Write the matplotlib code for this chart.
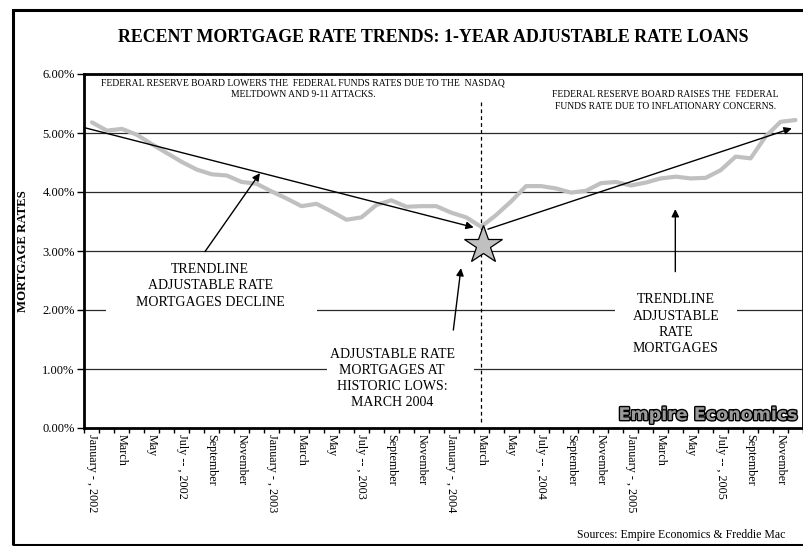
import matplotlib
matplotlib.use("Agg")
import matplotlib.pyplot as plt
import matplotlib.patheffects as pe
from matplotlib.patches import Rectangle
from matplotlib.ticker import FixedLocator, FuncFormatter

# ---- data: 1-year adjustable mortgage rate, monthly Jan 2002 - Dec 2005 (%)
months = [
    "January - , 2002", "February", "March", "April", "May", "June",
    "July -- , 2002", "August", "September", "October", "November", "December",
    "January - , 2003", "February", "March", "April", "May", "June",
    "July -- , 2003", "August", "September", "October", "November", "December",
    "January - , 2004", "February", "March", "April", "May", "June",
    "July -- , 2004", "August", "September", "October", "November", "December",
    "January - , 2005", "February", "March", "April", "May", "June",
    "July -- , 2005", "August", "September", "October", "November", "December",
]
rates = [
    5.18, 5.04, 5.07, 4.97, 4.81, 4.66, 4.51, 4.38, 4.30, 4.28, 4.17, 4.14,
    4.01, 3.89, 3.76, 3.80, 3.67, 3.53, 3.57, 3.78, 3.86, 3.75, 3.76, 3.76,
    3.65, 3.57, 3.41, 3.61, 3.84, 4.10, 4.10, 4.06, 3.99, 4.02, 4.15, 4.17,
    4.11, 4.16, 4.23, 4.26, 4.23, 4.24, 4.37, 4.60, 4.57, 4.94, 5.19, 5.22,
]
y_ticks = [0, 1, 2, 3, 4, 5, 6]
low_month = 26          # March 2004
low_marker_value = 3.10

SERIF = "Liberation Serif"
plt.rcParams["font.family"] = [SERIF, "DejaVu Serif"]

W, H = 804, 546
fig = plt.figure(figsize=(W / 100, H / 100), dpi=100)
fig.patch.set_facecolor("white")

# plot area in pixel terms
left_px, right_px, top_px, bottom_px = 84.5, 803.0, 74.0, 428.0
ax = fig.add_axes([left_px / W, 1 - bottom_px / H,
                   (right_px - left_px) / W, (bottom_px - top_px) / H])

n = len(rates)
x = list(range(n))
ax.set_xlim(-0.5, n - 0.5)
ax.set_ylim(0, 6)

# horizontal gridlines
for v in y_ticks[1:-1]:
    ax.axhline(v, color="#2a2a2a", lw=0.9, zorder=1)

# the rate series
ax.plot(x, rates, color="#c0c0c0", lw=3.0, solid_joinstyle="round",
        solid_capstyle="round", zorder=4)

# white panels behind the callout texts (they interrupt the gridlines)
for (x0, x1, y0, y1) in [(0.95, 15.0, 1.85, 2.85),
                         (15.7, 25.55, 0.22, 1.53),
                         (34.94, 43.09, 1.12, 2.42)]:
    ax.add_patch(Rectangle((x0, y0), x1 - x0, y1 - y0, facecolor="white",
                           edgecolor="none", zorder=2))

# vertical dashed marker at the low
ax.plot([low_month, low_month], [0.1, 5.56], color="black", lw=0.9,
        ls=(0, (3, 2.5)), zorder=3)

# trend arrows
arrow_kw = dict(arrowstyle="-|>", color="black", lw=1.0, mutation_scale=11,
                shrinkA=0, shrinkB=0)
ax.annotate("", xy=(25.5, 3.40), xytext=(-0.5, 5.09),
            arrowprops=arrow_kw, zorder=5)
ax.annotate("", xy=(46.75, 5.08), xytext=(26.45, 3.37),
            arrowprops=arrow_kw, zorder=5)

# callout arrows
ax.annotate("", xy=(11.22, 4.32), xytext=(7.55, 2.99),
            arrowprops=arrow_kw, zorder=5)
ax.annotate("", xy=(24.65, 2.71), xytext=(24.14, 1.66),
            arrowprops=arrow_kw, zorder=5)
ax.annotate("", xy=(38.97, 3.71), xytext=(38.97, 2.65),
            arrowprops=arrow_kw, zorder=5)

# star at the historic low
ax.plot([low_month + 0.1], [low_marker_value], marker="*", markersize=29,
        markerfacecolor="#c0c0c0", markeredgecolor="black", mew=0.9,
        zorder=6)

# callout texts
txt_kw = dict(ha="center", va="center", fontsize=10, linespacing=1.32,
              zorder=7)
ax.text(7.9, 2.41, "TRENDLINE\nADJUSTABLE RATE\nMORTGAGES DECLINE", **txt_kw)
ax.text(20.05, 0.84, "ADJUSTABLE RATE\nMORTGAGES AT\nHISTORIC LOWS:\nMARCH 2004",
        **txt_kw)
ax.text(39.0, 1.76, "TRENDLINE\nADJUSTABLE\nRATE\nMORTGAGES", **txt_kw)

ax.text(14.1, 5.75, "FEDERAL RESERVE BOARD LOWERS THE  FEDERAL FUNDS RATES DUE TO THE  NASDAQ\n"
        "MELTDOWN AND 9-11 ATTACKS.", ha="center", va="center", fontsize=6.9,
        linespacing=1.45, zorder=7)
ax.text(38.3, 5.55, "FEDERAL RESERVE BOARD RAISES THE  FEDERAL\n"
        "FUNDS RATE DUE TO INFLATIONARY CONCERNS.", ha="center", va="center",
        fontsize=6.85, linespacing=1.45, zorder=7)

# axes styling
for s in ax.spines.values():
    s.set_linewidth(2.0)
    s.set_color("black")
    s.set_zorder(8)

ax.yaxis.set_major_locator(FixedLocator(y_ticks))
ax.yaxis.set_major_formatter(FuncFormatter(lambda v, p: f"{v:.2f}%"))
ax.tick_params(axis="y", direction="out", length=5, width=1, labelsize=9,
               pad=2)

ax.set_xticks(x[::2])
ax.set_xticklabels(months[::2], rotation=-90, fontsize=8.7)
ax.set_xticks([i - 0.5 for i in range(n + 1)], minor=True)
ax.tick_params(axis="x", which="major", length=0, pad=4)
ax.tick_params(axis="x", which="minor", direction="out", length=3.6, width=1)

# titles and credits
fig.text(433 / W, 1 - 37 / H,
         "RECENT MORTGAGE RATE TRENDS: 1-YEAR ADJUSTABLE RATE LOANS",
         ha="center", va="center", fontsize=12.9, fontweight="bold")
fig.text(23 / W, 1 - 251 / H, "MORTGAGE RATES", rotation=90, ha="center",
         va="center", fontsize=9.2, fontweight="bold")
fig.text(785 / W, 1 - 535 / H, "Sources: Empire Economics & Freddie Mac",
         ha="right", va="center", fontsize=8.5)
fig.text(798 / W, 1 - 415 / H, "Empire Economics", ha="right", va="center",
         fontsize=12.6, fontweight="bold", family="DejaVu Sans",
         color="#9a9a9a", zorder=10,
         path_effects=[pe.Stroke(linewidth=2.0, foreground="black"),
                       pe.Normal()])

# outer frame around the whole chart
fig.add_artist(Rectangle((13 / W, 1.5 / H), 1.2, (544 - 9) / H,
                         transform=fig.transFigure, fill=False,
                         edgecolor="black", lw=2.2, clip_on=False))

fig.savefig("out.png", dpi=100)
